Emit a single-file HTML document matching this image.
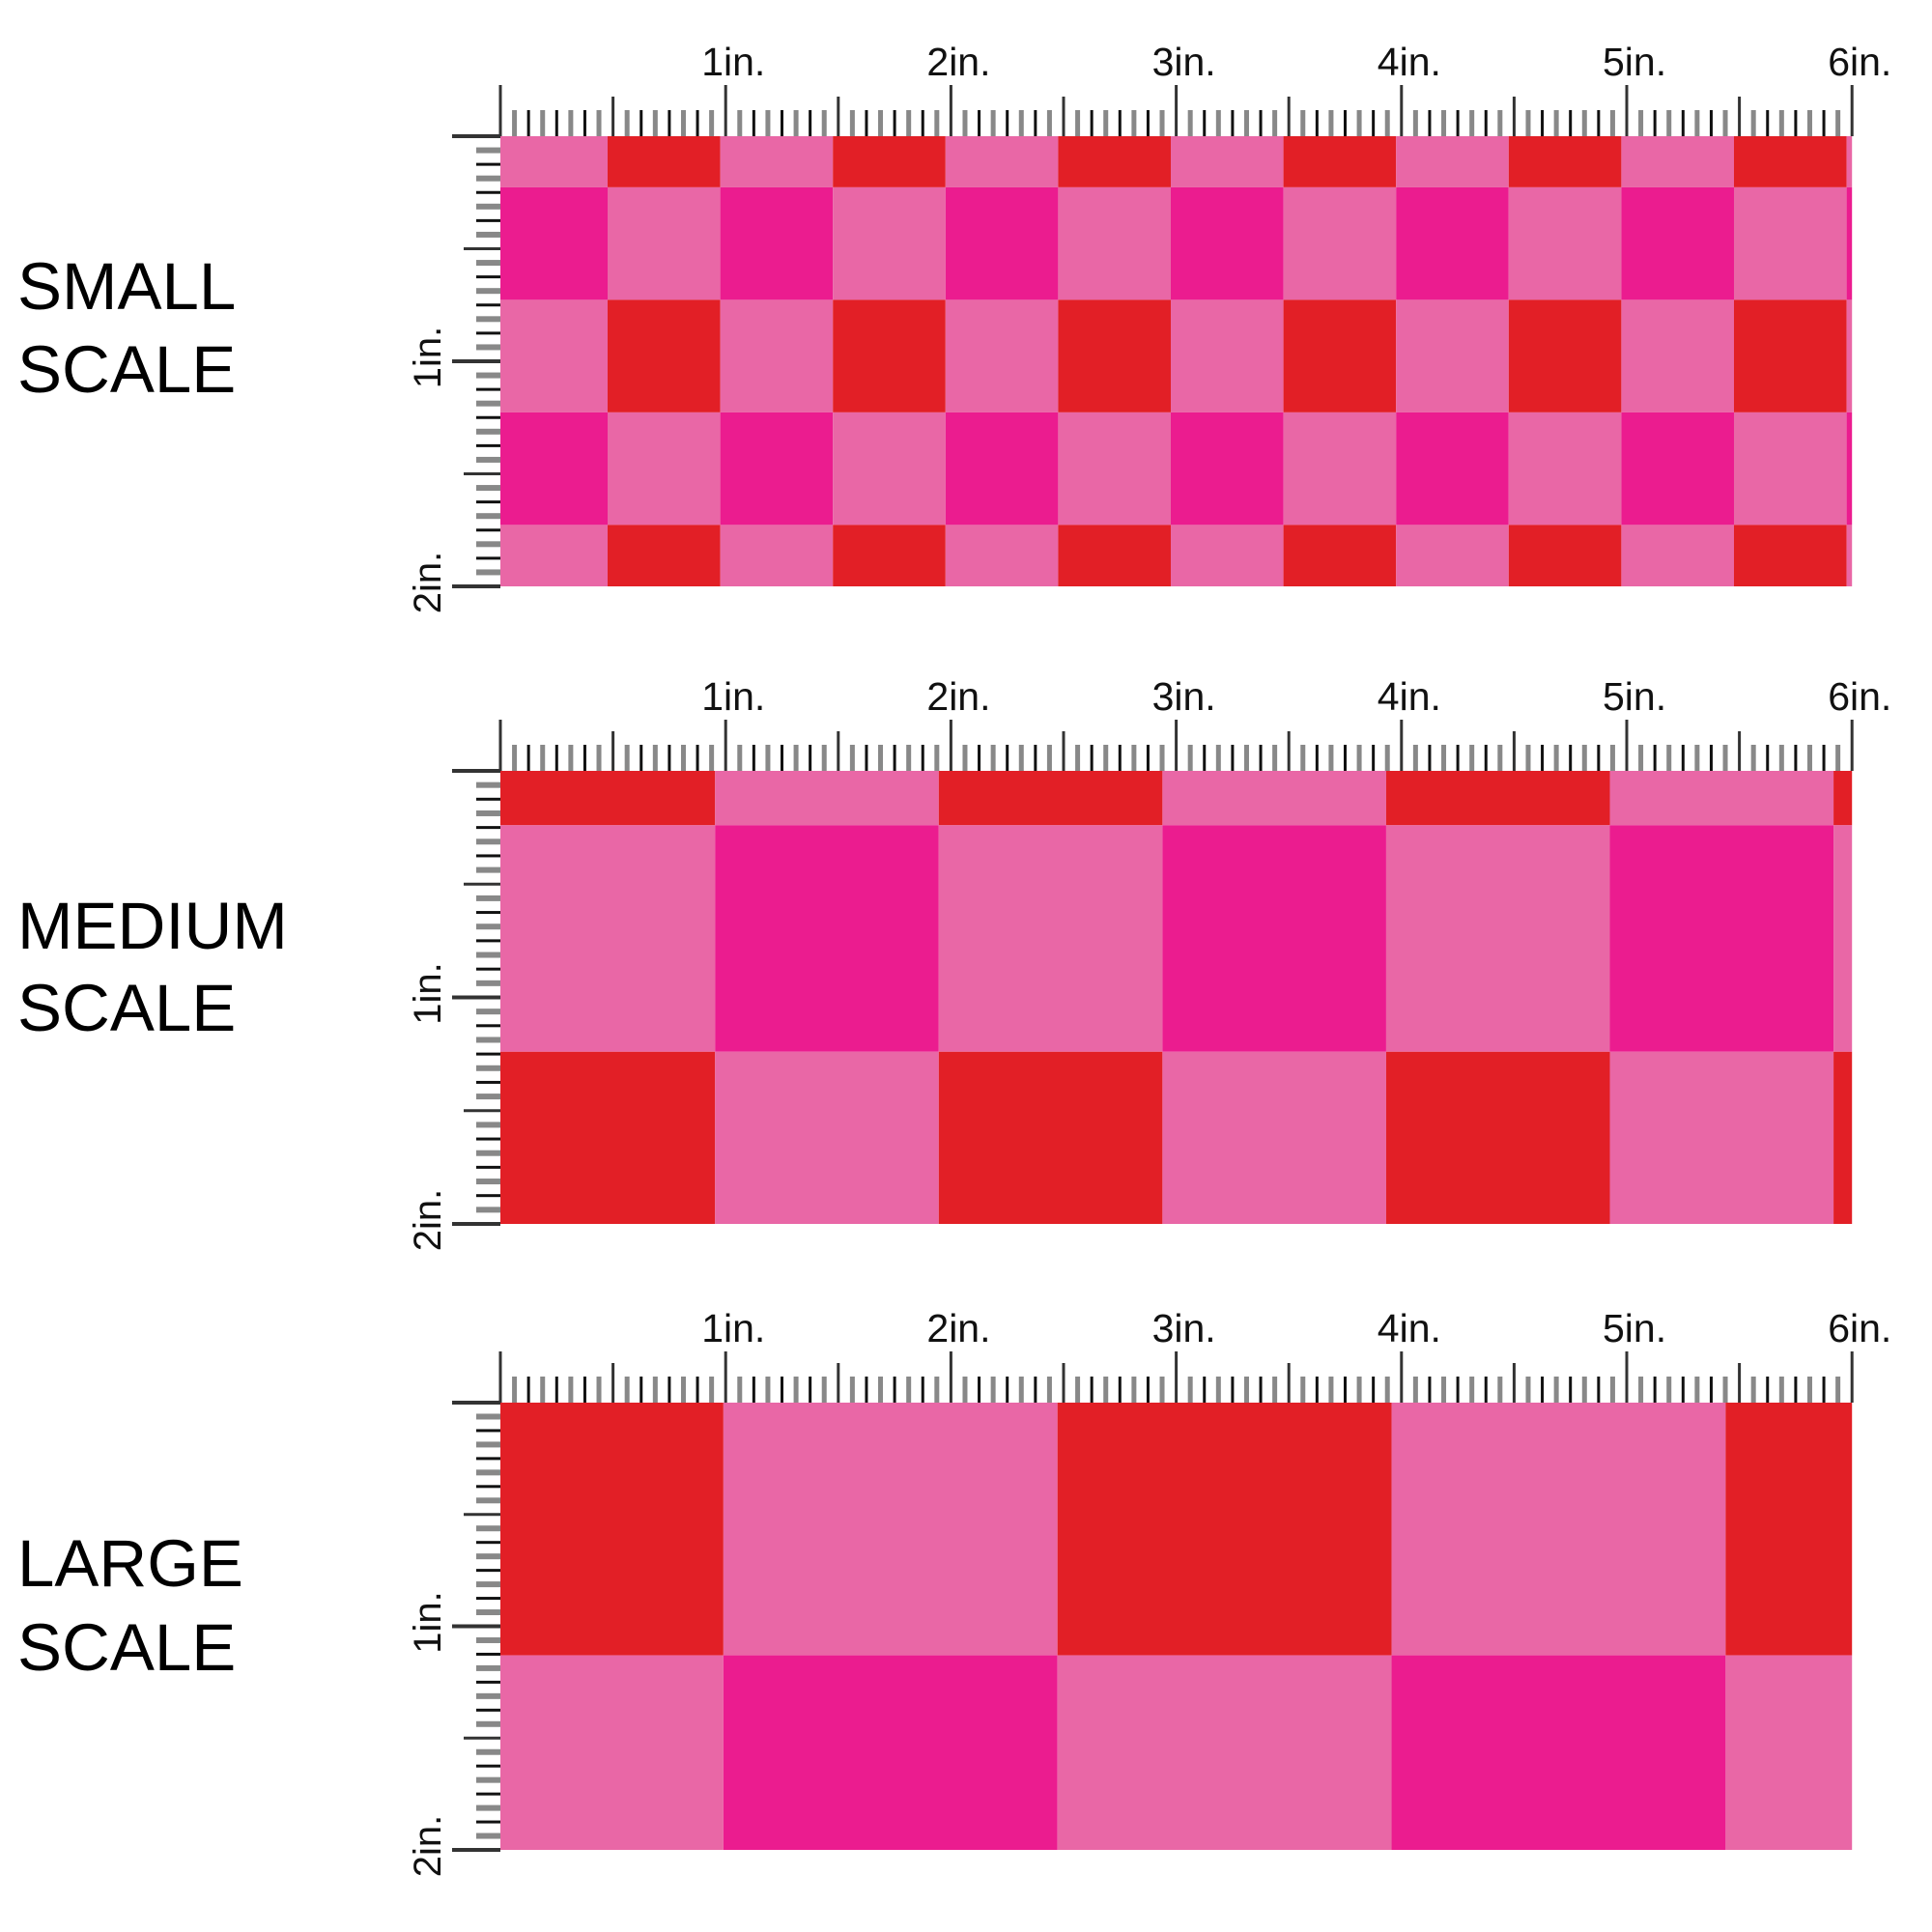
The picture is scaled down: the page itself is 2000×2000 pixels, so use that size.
<!DOCTYPE html>
<html><head><meta charset="utf-8">
<style>
html,body{margin:0;padding:0;background:#fff;}
svg{display:block;}
text{font-family:"Liberation Sans",sans-serif;}
</style></head>
<body>
<svg id="chart" width="2000" height="2000" viewBox="0 0 2000 2000" xmlns="http://www.w3.org/2000/svg">
  <g font-size="69" fill="#000">
    <text x="18" y="320">SMALL</text><text x="18" y="406">SCALE</text>
  </g>
  <g font-size="69" fill="#000">
    <text x="18" y="982">MEDIUM</text><text x="18" y="1067">SCALE</text>
  </g>
  <g font-size="69" fill="#000">
    <text x="18" y="1642">LARGE</text><text x="18" y="1729">SCALE</text>
  </g>
  <g id="panels"></g>
</svg>
<script>
// Pattern data (inches)
const panelNames = ['small', 'medium', 'large'];
const cellWidths = [0.5, 0.993, 1.483];
const cellHeights = [0.5, 1.0, 1.5];
const colOffsets = [0.476, 0.953, 0.99];
const rowOffsets = [0.227, 0.24, 1.13];
const panelHeights = [2.0, 2.0, 2.0];
const rowTypes = [['A','B','A','B','A'], ['A','B','A'], ['A','B']];
const rowColorsA = [['pink','red'], ['red','pink'], ['red','pink']];
const rowColorsB = [['magenta','pink'], ['pink','magenta'], ['pink','magenta']];
const topTickLabels = ['1in.','2in.','3in.','4in.','5in.','6in.'];
const sideTickLabels = ['1in.','2in.'];

const COLORS = {pink:'#E967A6', red:'#E21F26', magenta:'#EB1C8F'};
const X0 = 518, PX_IN = 233.2;
const panelTops = [141, 798, 1452];
const pxInY = [233, 234.5, 231.5];
const NS = 'http://www.w3.org/2000/svg';
const root = document.getElementById('panels');

function mk(tag, attrs, parent){
  const e = document.createElementNS(NS, tag);
  for (const k in attrs) e.setAttribute(k, attrs[k]);
  parent.appendChild(e);
  return e;
}
function edges(off, w, total){
  const arr = [0];
  for (let v = off; v < total - 1e-6; v += w) arr.push(v);
  arr.push(total);
  return arr;
}

panelNames.forEach((name, p) => {
  const top = panelTops[p], sy = pxInY[p];
  const xs = v => X0 + v * PX_IN;
  const ys = v => top + v * sy;
  const g = mk('g', {}, root);
  
  

  const cols = edges(colOffsets[p], cellWidths[p], 6);
  const rows = edges(rowOffsets[p], cellHeights[p], panelHeights[p]);
  for (let r = 0; r < rows.length - 1; r++) {
    const pal = rowTypes[p][r] === 'A' ? rowColorsA[p] : rowColorsB[p];
    for (let c = 0; c < cols.length - 1; c++) {
      const rect = mk('rect', {x: xs(cols[c]), y: ys(rows[r]), width: xs(cols[c+1]) - xs(cols[c]), height: ys(rows[r+1]) - ys(rows[r]), fill: COLORS[pal[c % 2]]}, g);
      
      
    }
  }

  const tr = mk('g', {}, g);
  
  
  for (let i = 0; i <= 96; i++) {
    const x = xs(i / 16);
    let h, col, w;
    if (i % 16 === 0) { h = 53; col = '#333'; w = 3; }
    else if (i % 8 === 0) { h = 41; col = '#333'; w = 3; }
    else if (i % 2 === 1) { h = 27; col = '#888'; w = 5; }
    else { h = 27; col = '#111'; w = 3; }
    mk('rect', {x: x - w / 2, y: top - h, width: w, height: h, fill: col}, tr);
  }
  topTickLabels.forEach((t, i) => {
    const tx = mk('text', {x: xs(i + 1) - 25, y: top - 63, 'font-size': 41, fill: '#111'}, tr);
    tx.textContent = t;
    
    
  });

  const sr = mk('g', {}, g);
  
  
  for (let i = 0; i <= 32; i++) {
    const y = ys(i / 16);
    let l, col, th;
    if (i % 16 === 0) { l = 50; col = '#333'; th = 4; }
    else if (i % 8 === 0) { l = 38; col = '#333'; th = 3; }
    else if (i % 2 === 1) { l = 25; col = '#888'; th = 6; }
    else { l = 25; col = '#111'; th = 3; }
    mk('rect', {x: X0 - l, y: y - th / 2, width: l, height: th, fill: col}, sr);
  }
  sideTickLabels.forEach((t, i) => {
    const cy = ys(i + 1) - 4;
    const tx = mk('text', {x: 0, y: 0, 'font-size': 40, fill: '#111', 'text-anchor': 'middle', transform: 'translate(456,' + cy + ') rotate(-90)'}, sr);
    tx.textContent = t;
    
    
  });
});
</script>
</body></html>
